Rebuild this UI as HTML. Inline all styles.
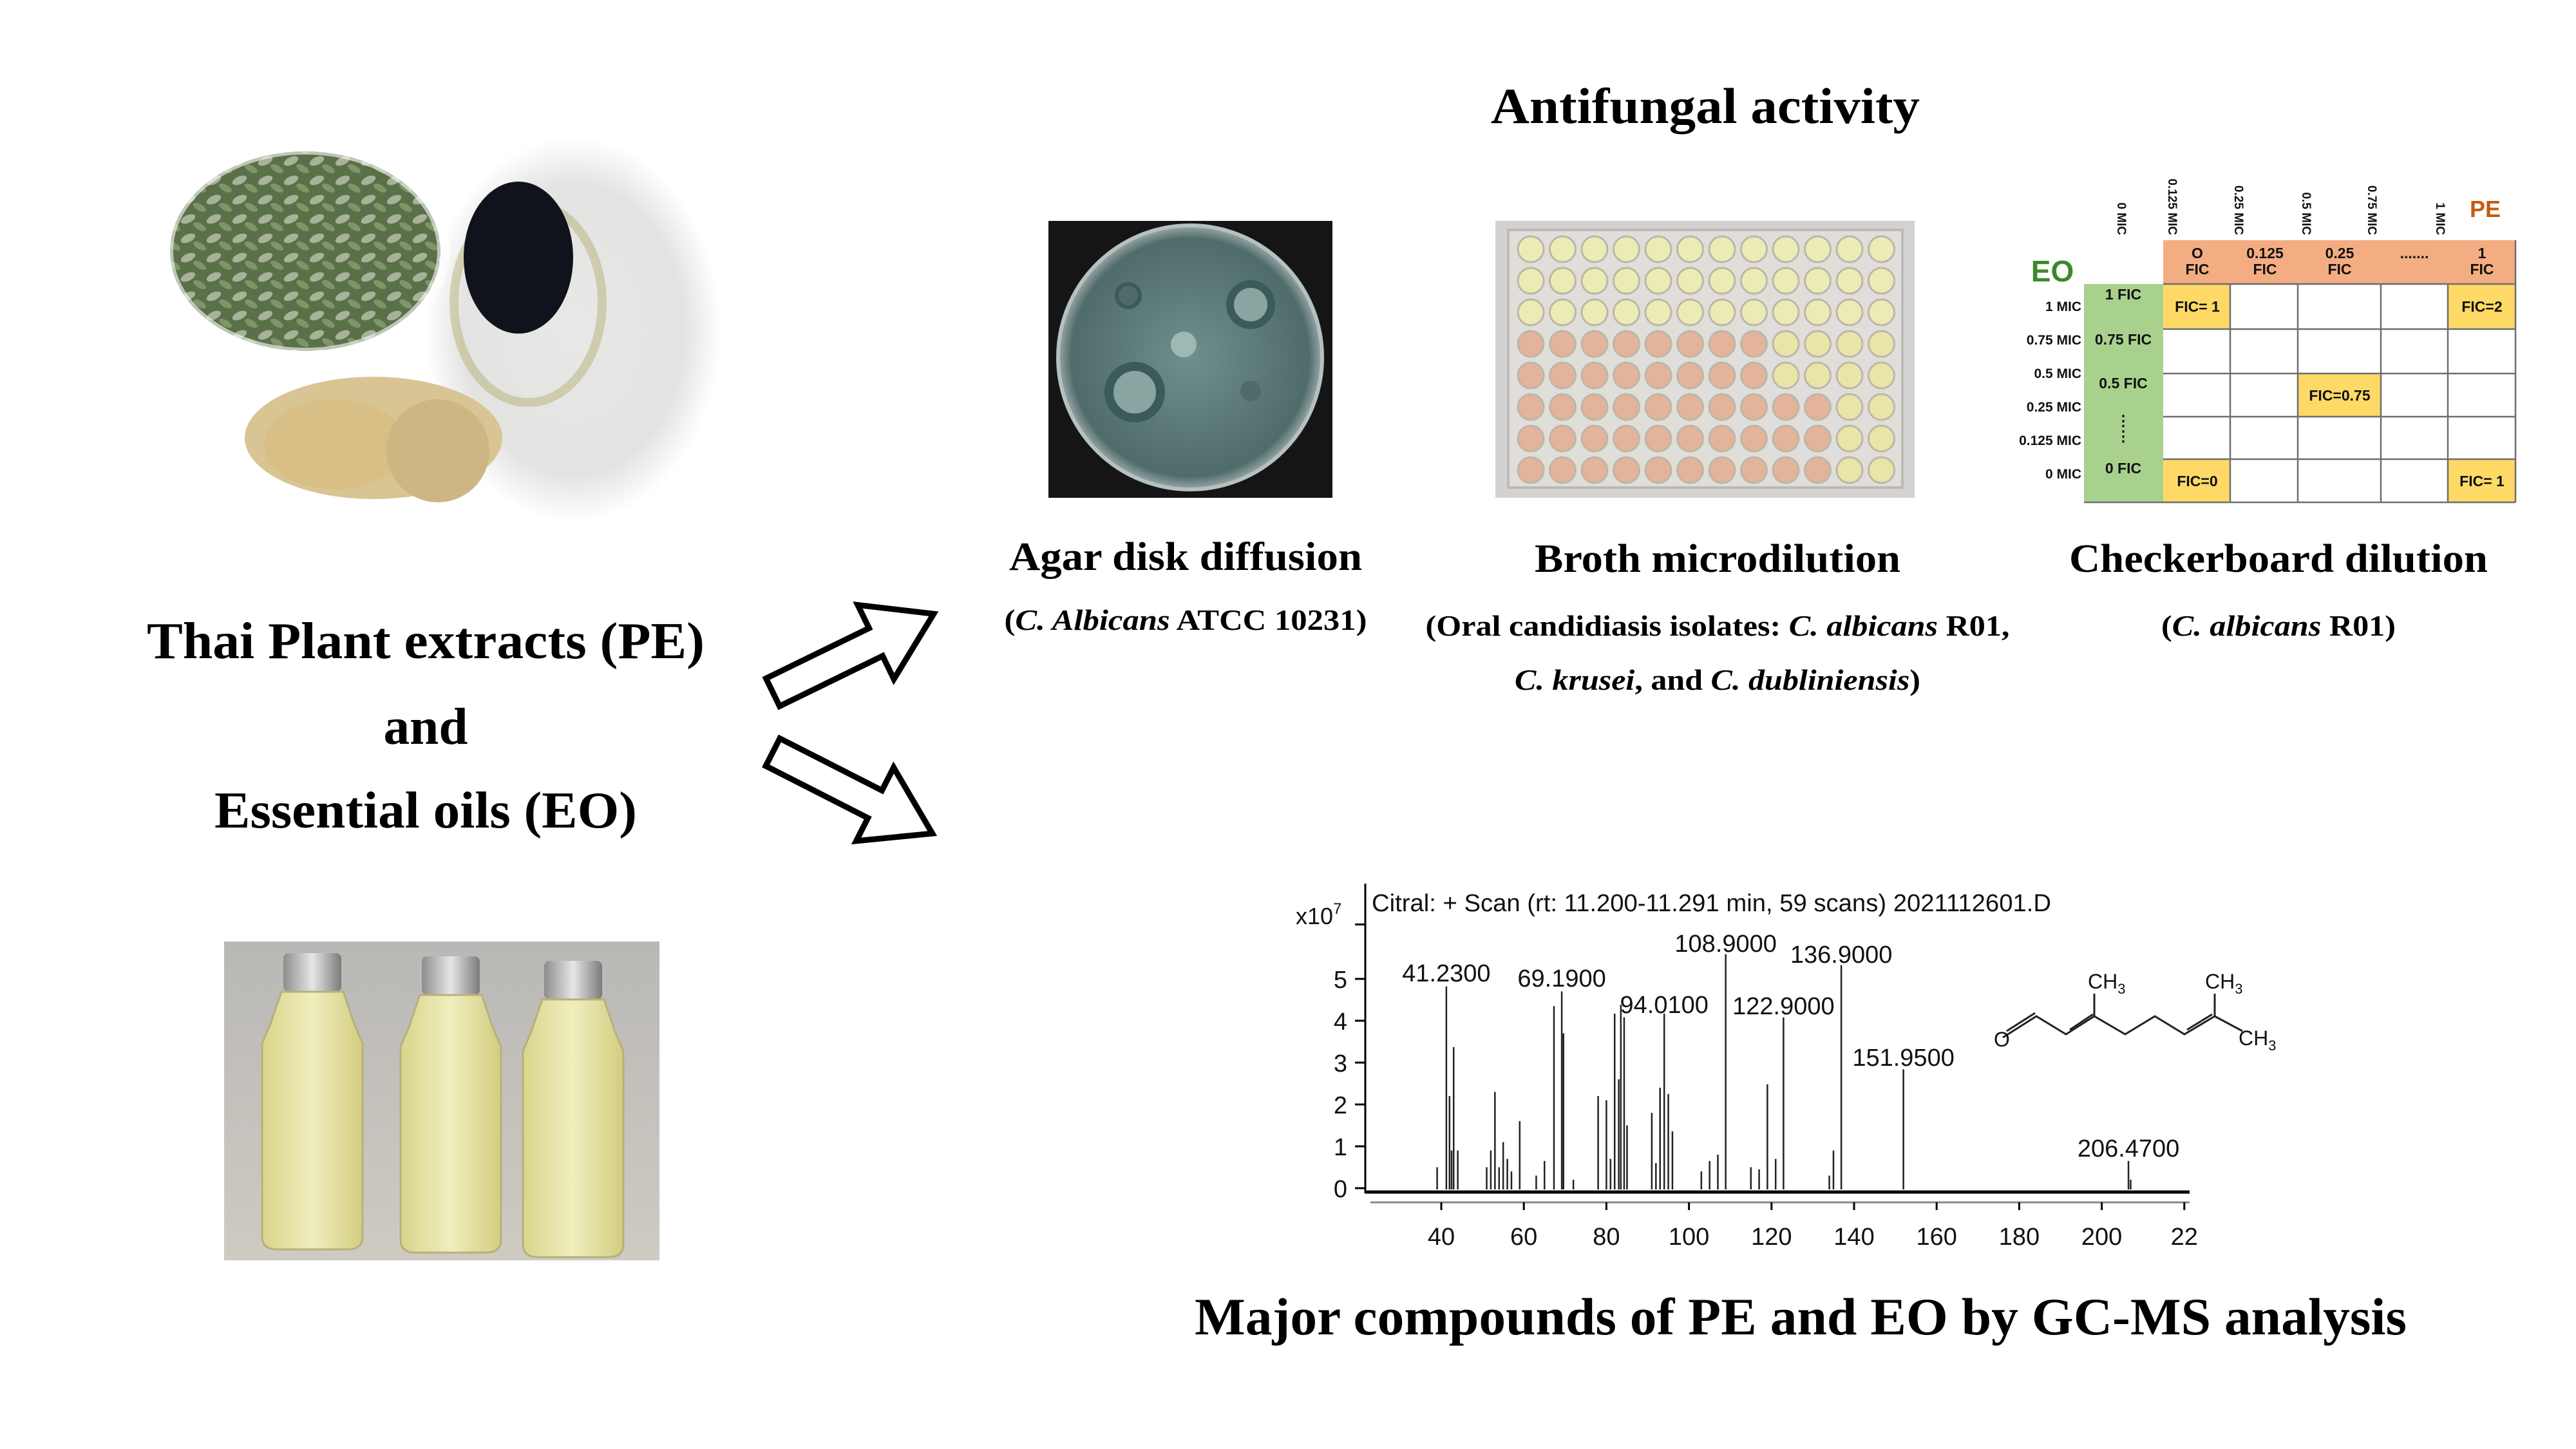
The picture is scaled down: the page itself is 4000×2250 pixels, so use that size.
<!DOCTYPE html>
<html><head><meta charset="utf-8"><style>
html,body{margin:0;padding:0;background:#fff;}
svg{display:block;}
.t{font-family:"Liberation Serif",serif;font-weight:bold;fill:#000;}
.s{font-family:"Liberation Sans",sans-serif;}
</style></head><body>
<svg id="svg" width="4000" height="2250" viewBox="0 0 4000 2250" xmlns="http://www.w3.org/2000/svg">
<defs>
<radialGradient id="dish" cx="50%" cy="50%" r="50%"><stop offset="0" stop-color="#e8e8e6"/><stop offset="0.75" stop-color="#e3e3e1"/><stop offset="1" stop-color="#fff"/></radialGradient>
<radialGradient id="leaf" cx="50%" cy="50%" r="50%"><stop offset="0" stop-color="#4e6440"/><stop offset="0.85" stop-color="#6d8060"/><stop offset="1" stop-color="#fff"/></radialGradient>
<radialGradient id="agar" cx="50%" cy="50%" r="50%"><stop offset="0" stop-color="#6f8f8c"/><stop offset="0.9" stop-color="#4f6b6a"/><stop offset="1" stop-color="#9aa8a8"/></radialGradient>
<linearGradient id="bg2" x1="0" y1="0" x2="0" y2="1"><stop offset="0" stop-color="#b9b8b6"/><stop offset="1" stop-color="#cfcac2"/></linearGradient>
<linearGradient id="bottle" x1="0" y1="0" x2="1" y2="0"><stop offset="0" stop-color="#d9d58c"/><stop offset="0.5" stop-color="#efeebd"/><stop offset="1" stop-color="#d3cc80"/></linearGradient>
<linearGradient id="cap" x1="0" y1="0" x2="1" y2="0"><stop offset="0" stop-color="#8d8d8d"/><stop offset="0.5" stop-color="#e6e6e6"/><stop offset="1" stop-color="#7b7b7b"/></linearGradient>
<pattern id="lv" width="40" height="30" patternUnits="userSpaceOnUse"><rect width="40" height="30" fill="#5a7048"/><ellipse cx="12" cy="10" rx="12" ry="6" fill="#a8b298" transform="rotate(-25 12 10)"/><ellipse cx="30" cy="22" rx="11" ry="5" fill="#7f9468" transform="rotate(30 30 22)"/></pattern>
</defs>

<!-- top-left photo -->
<ellipse cx="890" cy="512" rx="230" ry="300" fill="url(#dish)"/>
<ellipse cx="820" cy="470" rx="115" ry="155" fill="none" stroke="#a09a48" stroke-width="14" opacity="0.35"/>
<ellipse cx="805" cy="400" rx="85" ry="118" fill="#10131c"/>
<ellipse cx="580" cy="680" rx="200" ry="95" fill="#d9c594"/>
<ellipse cx="520" cy="690" rx="110" ry="70" fill="#d7bf86"/>
<ellipse cx="680" cy="700" rx="80" ry="80" fill="#cdb681"/>
<ellipse cx="474" cy="390" rx="210" ry="155" fill="url(#lv)"/>
<ellipse cx="474" cy="390" rx="215" ry="160" fill="none" stroke="#fff" stroke-width="20" opacity="0.6"/>

<!-- arrows -->
<g transform="translate(1200,1075) rotate(-26)"><polygon points="0,-24 178,-24 178,-64 278,0 178,64 178,24 0,24" fill="#fff" stroke="#000" stroke-width="9"/></g>
<g transform="translate(1200,1168) rotate(27)"><polygon points="0,-24 178,-24 178,-64 278,0 178,64 178,24 0,24" fill="#fff" stroke="#000" stroke-width="9"/></g>

<!-- left texts -->
<text class="t" x="661" y="1022" font-size="80" text-anchor="middle" textLength="866" lengthAdjust="spacingAndGlyphs">Thai Plant extracts (PE)</text>
<text class="t" x="661" y="1155" font-size="80" text-anchor="middle" textLength="131" lengthAdjust="spacingAndGlyphs">and</text>
<text class="t" x="661" y="1285" font-size="80" text-anchor="middle" textLength="656" lengthAdjust="spacingAndGlyphs">Essential oils (EO)</text>

<!-- bottles photo -->
<rect x="348" y="1462" width="676" height="495" fill="url(#bg2)"/>
<g id="bottles"></g>

<g transform="translate(-8,-5)">
<text class="t" x="2656" y="196" font-size="78" text-anchor="middle" textLength="666" lengthAdjust="spacingAndGlyphs">Antifungal activity</text>

<!-- agar -->
<rect x="1636" y="348" width="441" height="430" fill="#151515"/>
<circle cx="1856" cy="560" r="205" fill="url(#agar)"/>
<circle cx="1856" cy="560" r="205" fill="none" stroke="#b5c0c0" stroke-width="6"/>
<circle cx="1770" cy="614" r="40" fill="#8aa4a2" stroke="#3b5a5a" stroke-width="14"/>
<circle cx="1950" cy="478" r="32" fill="#8aa4a2" stroke="#3b5a5a" stroke-width="12"/>
<circle cx="1846" cy="540" r="20" fill="#9fb7b5"/>
<circle cx="1760" cy="464" r="18" fill="#4e6b6a" stroke="#3b5a5a" stroke-width="6"/>
<circle cx="1950" cy="612" r="16" fill="#4e6b6a"/>
<text class="t" x="1849" y="890" font-size="62" text-anchor="middle" textLength="548" lengthAdjust="spacingAndGlyphs">Agar disk diffusion</text>
<text class="t" x="1849" y="983" font-size="46" text-anchor="middle" textLength="563" lengthAdjust="spacingAndGlyphs">(<tspan font-style="italic">C. Albicans</tspan> ATCC 10231)</text>

<!-- broth -->
<rect x="2330" y="348" width="651" height="430" fill="#d4d2d0"/>
<rect x="2350" y="362" width="612" height="400" fill="#e0dedb" stroke="#bdbab6" stroke-width="4"/>
<g id="wells"></g>
<text class="t" x="2675" y="893" font-size="62" text-anchor="middle" textLength="568" lengthAdjust="spacingAndGlyphs">Broth microdilution</text>
<text class="t" x="2675" y="992" font-size="46" text-anchor="middle" textLength="907" lengthAdjust="spacingAndGlyphs">(Oral candidiasis isolates: <tspan font-style="italic">C. albicans</tspan> R01,</text>
<text class="t" x="2675" y="1076" font-size="46" text-anchor="middle" textLength="630" lengthAdjust="spacingAndGlyphs"><tspan font-style="italic">C. krusei</tspan>, and <tspan font-style="italic">C. dubliniensis</tspan>)</text>

<!-- checkerboard -->
<g class="s" font-weight="bold">
<rect x="3367" y="378" width="547" height="68" fill="#f4ad82"/>
<rect x="3244" y="446" width="123" height="339" fill="#a9d18e"/>
<rect x="3367" y="446" width="104" height="70" fill="#ffd966"/>
<rect x="3809" y="446" width="105" height="70" fill="#ffd966"/>
<rect x="3576" y="585" width="129" height="67" fill="#ffd966"/>
<rect x="3367" y="718" width="104" height="67" fill="#ffd966"/>
<rect x="3809" y="718" width="105" height="67" fill="#ffd966"/>
<g stroke="#6e6e6e" stroke-width="2.5" fill="none">
<line x1="3367" y1="446" x2="3914" y2="446"/><line x1="3367" y1="516" x2="3914" y2="516"/><line x1="3367" y1="585" x2="3914" y2="585"/><line x1="3367" y1="652" x2="3914" y2="652"/><line x1="3367" y1="718" x2="3914" y2="718"/><line x1="3244" y1="785" x2="3914" y2="785"/>
<line x1="3471" y1="446" x2="3471" y2="785"/><line x1="3576" y1="446" x2="3576" y2="785"/><line x1="3705" y1="446" x2="3705" y2="785"/><line x1="3809" y1="446" x2="3809" y2="785"/><line x1="3914" y1="378" x2="3914" y2="785"/>
</g>
<text x="3195" y="442" font-size="46" fill="#3a8a2a" text-anchor="middle">EO</text>
<text x="3867" y="342" font-size="36" fill="#c55a11" text-anchor="middle">PE</text>
<g font-size="19" fill="#111">
<text transform="translate(3296,370) rotate(90)" text-anchor="end">0 MIC</text>
<text transform="translate(3375,370) rotate(90)" text-anchor="end">0.125 MIC</text>
<text transform="translate(3478,370) rotate(90)" text-anchor="end">0.25 MIC</text>
<text transform="translate(3583,370) rotate(90)" text-anchor="end">0.5 MIC</text>
<text transform="translate(3685,370) rotate(90)" text-anchor="end">0.75 MIC</text>
<text transform="translate(3791,370) rotate(90)" text-anchor="end">1 MIC</text>
</g>
<g font-size="21" fill="#111" text-anchor="end">
<text x="3240" y="488">1 MIC</text><text x="3240" y="540">0.75 MIC</text><text x="3240" y="592">0.5 MIC</text><text x="3240" y="644">0.25 MIC</text><text x="3240" y="696">0.125 MIC</text><text x="3240" y="748">0 MIC</text>
</g>
<g font-size="23" fill="#111" text-anchor="middle">
<text x="3420" y="406">O</text><text x="3420" y="431">FIC</text>
<text x="3525" y="406">0.125</text><text x="3525" y="431">FIC</text>
<text x="3641" y="406">0.25</text><text x="3641" y="431">FIC</text>
<text x="3757" y="406">.......</text>
<text x="3862" y="406">1</text><text x="3862" y="431">FIC</text>
<text x="3305" y="470">1 FIC</text><text x="3305" y="540">0.75 FIC</text><text x="3305" y="608">0.5 FIC</text><text x="3305" y="740">0 FIC</text>
<text x="3305" y="666">⋮</text><text x="3305" y="690">⋮</text>
<text x="3420" y="489">FIC= 1</text><text x="3862" y="489">FIC=2</text><text x="3641" y="627">FIC=0.75</text>
<text x="3420" y="760">FIC=0</text><text x="3862" y="760">FIC= 1</text>
</g>
</g>
<text class="t" x="3546" y="893" font-size="62" text-anchor="middle" textLength="650" lengthAdjust="spacingAndGlyphs">Checkerboard dilution</text>
<text class="t" x="3546" y="992" font-size="46" text-anchor="middle" textLength="364" lengthAdjust="spacingAndGlyphs">(<tspan font-style="italic">C. albicans</tspan> R01)</text>

<!-- spectrum -->
<g class="s" id="spec" fill="#111">
<line x1="2128" y1="1377" x2="2128" y2="1858" stroke="#000" stroke-width="3"/>
<line x1="2128" y1="1856" x2="3408" y2="1856" stroke="#000" stroke-width="5"/>
<line x1="2136" y1="1872" x2="3408" y2="1872" stroke="#888" stroke-width="3"/>
<text x="2020" y="1440" font-size="36">x10<tspan font-size="24" dy="-16">7</tspan></text>
<text x="2138" y="1420" font-size="38" textLength="1055" lengthAdjust="spacingAndGlyphs">Citral: + Scan (rt: 11.200-11.291 min, 59 scans) 2021112601.D</text>
</g>

<text class="t" x="2804" y="2077" font-size="82" text-anchor="middle" textLength="1882" lengthAdjust="spacingAndGlyphs">Major compounds of PE and EO by GC-MS analysis</text>
</g>
</svg>
<script>
var NS="http://www.w3.org/2000/svg";
function el(p,t,a,txt){var e=document.createElementNS(NS,t);for(var k in a)e.setAttribute(k,a[k]);if(txt)e.textContent=txt;p.appendChild(e);return e;}
var w=document.getElementById("wells");
for(var r=0;r<8;r++)for(var c=0;c<12;c++){
 var x=2385+c*49.5,y=392+r*49;
 var pink=(r>=3&&c<8)||(r>=5&&c<10);
 var col=pink?"#e3b39b":(r<3?"#ecebb5":"#e7e6a8");
 el(w,"circle",{cx:x,cy:y,r:20,fill:col,stroke:"#bdb7a8","stroke-width":3});
}
var b=document.getElementById("bottles");
[[485,1480],[700,1485],[890,1492]].forEach(function(p){
 var cx=p[0],top=p[1];
 el(b,"rect",{x:cx-45,y:top,width:90,height:60,rx:8,fill:"url(#cap)"});
 el(b,"path",{d:"M"+(cx-48)+","+(top+60)+" L"+(cx+48)+","+(top+60)+" L"+(cx+65)+","+(top+110)+" L"+(cx+78)+","+(top+140)+" L"+(cx+78)+","+(top+440)+" Q"+(cx+78)+","+(top+460)+" "+(cx+55)+","+(top+460)+" L"+(cx-55)+","+(top+460)+" Q"+(cx-78)+","+(top+460)+" "+(cx-78)+","+(top+440)+" L"+(cx-78)+","+(top+140)+" L"+(cx-65)+","+(top+110)+" Z",fill:"url(#bottle)",stroke:"#b8b07a","stroke-width":3});
});
var s=document.getElementById("spec");
function X(m){return 2246+(m-40)*6.41;}
function Y(h){return 1850-h*65;}
for(var i=0;i<=5;i++){el(s,"line",{x1:2112,y1:Y(i),x2:2128,y2:Y(i),stroke:"#000","stroke-width":3});el(s,"text",{x:2100,y:Y(i)+14,"font-size":38,"text-anchor":"end"},""+i);}
el(s,"line",{x1:2112,y1:Y(6.3),x2:2128,y2:Y(6.3),stroke:"#000","stroke-width":3});
for(var m=40;m<=220;m+=20){el(s,"line",{x1:X(m),y1:1872,x2:X(m),y2:1884,stroke:"#000","stroke-width":3});el(s,"text",{x:X(m),y:1938,"font-size":38,"text-anchor":"middle"},m==220?"22":""+m);}
var pk=[[39,0.5],[41.23,4.82],[42,2.2],[42.5,0.9],[43,3.37],[44,0.9],[51,0.5],[52,0.9],[53,2.3],[54,0.5],[55,1.1],[56,0.7],[57,0.4],[59,1.6],[63,0.3],[65,0.65],[67.3,4.35],[69.19,4.7],[69.6,3.7],[72,0.2],[78,2.2],[80,2.1],[81,0.7],[82,4.17],[83,2.6],[83.5,4.38],[84.3,4.08],[85,1.5],[91,1.8],[92,0.6],[93,2.4],[94.01,4.17],[95,2.25],[96,1.36],[103,0.4],[105,0.65],[107,0.8],[108.9,5.59],[115,0.5],[117,0.45],[119,2.48],[121,0.7],[122.9,4.08],[134,0.3],[135,0.9],[136.9,5.33],[151.95,2.84],[206.47,0.65],[207,0.2]];
pk.forEach(function(p){el(s,"line",{x1:X(p[0]),y1:1852,x2:X(p[0]),y2:Y(p[1]),stroke:"#222","stroke-width":2.5});});
[["41.2300",41.23,1529],["69.1900",69.19,1537],["94.0100",94.01,1578],["108.9000",108.9,1483],["122.9000",122.9,1580],["136.9000",136.9,1500],["151.9500",151.95,1660],["206.4700",206.47,1801]].forEach(function(l){el(s,"text",{x:X(l[1]),y:l[2],"font-size":38,"text-anchor":"middle"},l[0]);});
el(s,"polyline",{points:"3118,1616 3170,1583 3216,1611 3260,1583 3308,1611 3354,1583 3400,1611 3447,1583 3490,1606",fill:"none",stroke:"#222","stroke-width":3});
el(s,"line",{x1:3124,y1:1606,x2:3168,y2:1578,stroke:"#222","stroke-width":3});
el(s,"line",{x1:3222,y1:1604,x2:3258,y2:1580,stroke:"#222","stroke-width":3});
el(s,"line",{x1:3404,y1:1604,x2:3443,y2:1580,stroke:"#222","stroke-width":3});
el(s,"line",{x1:3260,y1:1583,x2:3260,y2:1548,stroke:"#222","stroke-width":3});
el(s,"line",{x1:3447,y1:1583,x2:3447,y2:1548,stroke:"#222","stroke-width":3});
el(s,"text",{x:3104,y:1630,"font-size":32},"O");
var t1=el(s,"text",{x:3250,y:1540,"font-size":32},"CH");el(t1,"tspan",{"font-size":22,dy:8},"3");
var t2=el(s,"text",{x:3432,y:1540,"font-size":32},"CH");el(t2,"tspan",{"font-size":22,dy:8},"3");
var t3=el(s,"text",{x:3484,y:1628,"font-size":32},"CH");el(t3,"tspan",{"font-size":22,dy:8},"3");
</script>
</body></html>
